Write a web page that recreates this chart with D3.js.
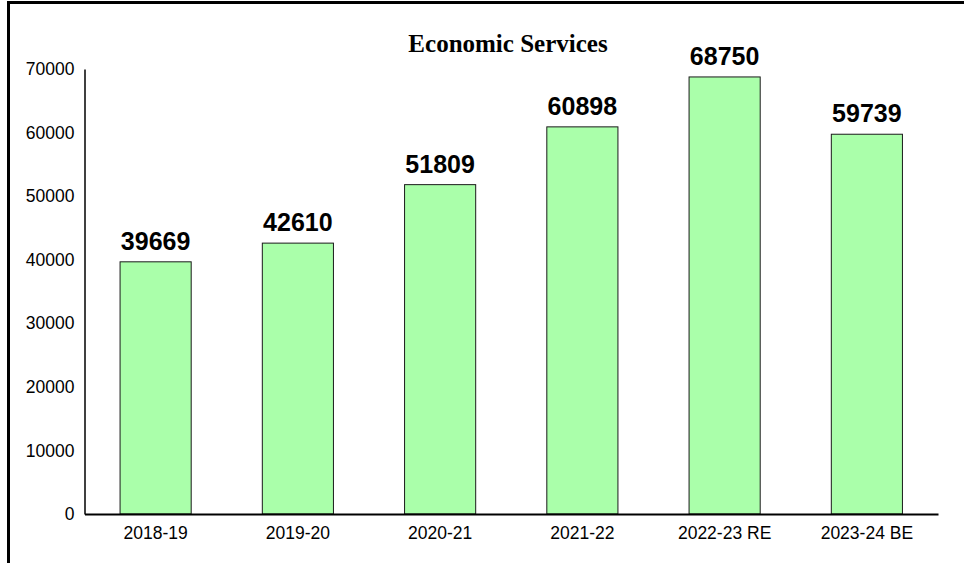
<!DOCTYPE html>
<html><head><meta charset="utf-8">
<script src="https://cdn.jsdelivr.net/npm/d3@7"></script>
<style>html,body{margin:0;padding:0;background:#fff;overflow:hidden}</style>
</head><body>
<svg id="c" width="964" height="563"></svg>
<script>
const categories = ["2018-19","2019-20","2020-21","2021-22","2022-23 RE","2023-24 BE"];
const values = [39669, 42610, 51809, 60898, 68750, 59739];
const yTicks = [0,10000,20000,30000,40000,50000,60000,70000];
const title = "Economic Services";

const svg = d3.select("#c");
// frame
svg.append("rect").attr("x",8.5).attr("y",2.5).attr("width",1200).attr("height",800)
  .attr("fill","none").attr("stroke","#000").attr("stroke-width",3);

const L=84.5, R=938, T=69, B=514;
const x = d3.scaleBand().domain(categories).range([L,R]).paddingInner(0.5).paddingOuter(0.25);
const y = d3.scaleLinear().domain([0,70000]).range([B,T]);

svg.selectAll("rect.bar").data(values).enter().append("rect").attr("class","bar")
  .attr("x",(d,i)=>x(categories[i])).attr("width",x.bandwidth())
  .attr("y",d=>y(d)).attr("height",d=>B-y(d))
  .attr("fill","#aaffaa").attr("stroke","#1a1a1a").attr("stroke-width",1);

svg.selectAll("text.val").data(values).enter().append("text").attr("class","val")
  .attr("x",(d,i)=>x(categories[i])+x.bandwidth()/2).attr("y",d=>y(d)-12)
  .attr("text-anchor","middle").attr("font-family","Liberation Sans, Arial, sans-serif")
  .attr("font-weight","bold").attr("font-size",25).attr("fill","#000").text(d=>d);

const yAxis = svg.append("g").attr("transform",`translate(${L},0)`)
  .call(d3.axisLeft(y).tickValues(yTicks).tickSize(0).tickPadding(10).tickFormat(d3.format("d")));
yAxis.select(".domain").attr("stroke","#000").attr("stroke-width",1.5);
yAxis.selectAll("text").attr("font-family","Liberation Sans, Arial, sans-serif").attr("font-size",17.5).attr("fill","#000");

const xAxis = svg.append("g").attr("transform",`translate(0,${B})`)
  .call(d3.axisBottom(x).tickSize(0).tickPadding(13));
xAxis.select(".domain").attr("stroke","#000").attr("stroke-width",2);
xAxis.selectAll("text").attr("font-family","Liberation Sans, Arial, sans-serif").attr("font-size",17.5).attr("fill","#000");

svg.append("text").attr("x",508).attr("y",52).attr("text-anchor","middle")
  .attr("font-family","Liberation Serif, Times New Roman, serif").attr("font-weight","bold")
  .attr("font-size",25).attr("fill","#000").text(title);
</script>
</body></html>
